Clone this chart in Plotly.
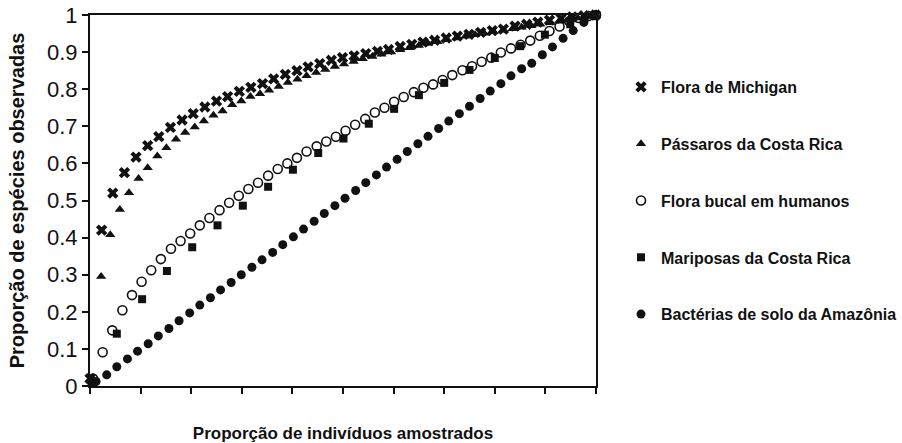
import plotly.graph_objects as go

# Proportion of individuals sampled (x) vs proportion of species observed (y)

michigan_x = [0.000, 0.023, 0.045, 0.068, 0.091, 0.114, 0.136, 0.159, 0.182, 0.204,
              0.227, 0.250, 0.272, 0.295, 0.318, 0.341, 0.363, 0.386, 0.409, 0.431,
              0.454, 0.477, 0.499, 0.522, 0.545, 0.568, 0.590, 0.613, 0.636, 0.658,
              0.681, 0.704, 0.726, 0.749, 0.772, 0.795, 0.817, 0.840, 0.863, 0.885,
              0.908, 0.931, 0.953, 0.976, 0.999]
michigan_y = [0.020, 0.420, 0.520, 0.575, 0.617, 0.648, 0.672, 0.697, 0.717, 0.734,
              0.752, 0.768, 0.780, 0.794, 0.805, 0.815, 0.828, 0.840, 0.850, 0.860,
              0.869, 0.878, 0.885, 0.890, 0.896, 0.902, 0.907, 0.915, 0.921, 0.927,
              0.932, 0.938, 0.943, 0.948, 0.953, 0.958, 0.962, 0.970, 0.975, 0.981,
              0.986, 0.991, 0.995, 0.998, 1.000]

birds_x = [0.004, 0.022, 0.040, 0.059, 0.077, 0.096, 0.114, 0.133, 0.151, 0.170,
           0.188, 0.207, 0.225, 0.244, 0.262, 0.281, 0.299, 0.317, 0.336, 0.354,
           0.373, 0.391, 0.410, 0.428, 0.447, 0.465, 0.484, 0.502, 0.521, 0.539,
           0.558, 0.576, 0.595, 0.613, 0.631, 0.650, 0.668, 0.687, 0.705, 0.724,
           0.742, 0.761, 0.779, 0.798, 0.816, 0.835, 0.853, 0.872, 0.890, 0.909,
           0.927, 0.946, 0.964, 0.983, 1.000]
birds_y = [0.020, 0.295, 0.408, 0.476, 0.521, 0.559, 0.588, 0.620, 0.642, 0.665,
           0.683, 0.698, 0.714, 0.730, 0.741, 0.758, 0.768, 0.780, 0.788, 0.797,
           0.807, 0.818, 0.827, 0.836, 0.845, 0.853, 0.861, 0.868, 0.875, 0.882,
           0.888, 0.894, 0.900, 0.906, 0.912, 0.918, 0.923, 0.928, 0.933, 0.938,
           0.943, 0.947, 0.951, 0.955, 0.959, 0.963, 0.967, 0.971, 0.975, 0.979,
           0.983, 0.988, 0.992, 0.996, 1.000]

oral_x = [0.006, 0.025, 0.044, 0.064, 0.083, 0.102, 0.121, 0.140, 0.160, 0.179,
          0.198, 0.217, 0.236, 0.256, 0.275, 0.294, 0.313, 0.332, 0.352, 0.371,
          0.390, 0.409, 0.428, 0.448, 0.467, 0.486, 0.505, 0.524, 0.544, 0.563,
          0.582, 0.601, 0.620, 0.640, 0.659, 0.678, 0.697, 0.716, 0.736, 0.755,
          0.774, 0.793, 0.812, 0.832, 0.851, 0.870, 0.889, 0.908, 0.928, 0.947,
          0.966, 0.985, 1.000]
oral_y = [0.020, 0.091, 0.150, 0.204, 0.245, 0.281, 0.312, 0.342, 0.370, 0.391,
          0.411, 0.433, 0.453, 0.474, 0.494, 0.513, 0.531, 0.548, 0.567, 0.585,
          0.600, 0.615, 0.632, 0.646, 0.659, 0.672, 0.688, 0.704, 0.720, 0.737,
          0.750, 0.766, 0.779, 0.792, 0.804, 0.813, 0.825, 0.838, 0.851, 0.862,
          0.874, 0.885, 0.899, 0.910, 0.920, 0.931, 0.944, 0.957, 0.969, 0.983,
          0.992, 0.997, 1.000]

moths_x = [0.003, 0.053, 0.103, 0.152, 0.202, 0.252, 0.302, 0.352, 0.401, 0.451,
           0.501, 0.551, 0.601, 0.650, 0.700, 0.750, 0.800, 0.850, 0.899, 0.949,
           0.999]
moths_y = [0.010, 0.141, 0.234, 0.310, 0.374, 0.433, 0.486, 0.537, 0.583, 0.628,
           0.667, 0.707, 0.747, 0.784, 0.817, 0.852, 0.884, 0.916, 0.947, 0.975,
           1.000]

bacteria_x = [0.012, 0.033, 0.053, 0.074, 0.094, 0.115, 0.135, 0.156, 0.176, 0.197,
              0.217, 0.238, 0.258, 0.279, 0.299, 0.320, 0.340, 0.361, 0.381, 0.402,
              0.422, 0.443, 0.463, 0.484, 0.504, 0.525, 0.545, 0.566, 0.586, 0.607,
              0.627, 0.648, 0.668, 0.689, 0.709, 0.730, 0.750, 0.771, 0.791, 0.812,
              0.832, 0.853, 0.873, 0.894, 0.914, 0.935, 0.955, 0.976, 0.996]
bacteria_y = [0.012, 0.030, 0.052, 0.073, 0.094, 0.114, 0.135, 0.155, 0.176, 0.197,
              0.218, 0.238, 0.259, 0.279, 0.300, 0.320, 0.340, 0.360, 0.381, 0.402,
              0.423, 0.444, 0.465, 0.486, 0.506, 0.527, 0.548, 0.569, 0.590, 0.611,
              0.632, 0.653, 0.673, 0.694, 0.714, 0.734, 0.754, 0.775, 0.795, 0.815,
              0.836, 0.855, 0.870, 0.893, 0.914, 0.937, 0.958, 0.980, 0.998]

y_ticks = [0, 0.1, 0.2, 0.3, 0.4, 0.5, 0.6, 0.7, 0.8, 0.9, 1]
y_tick_text = ["0", "0.1", "0.2", "0.3", "0.4", "0.5", "0.6", "0.7", "0.8", "0.9", "1"]

INK = "#111111"
FONT = "Liberation Sans, Arial, sans-serif"

series = [
    ("Flora de Michigan", michigan_x, michigan_y, dict(symbol="x", size=10)),
    ("Pássaros da Costa Rica", birds_x, birds_y, dict(symbol="triangle-up", size=9)),
    ("Flora bucal em humanos", oral_x, oral_y,
     dict(symbol="circle-open", size=9, line=dict(width=1.6, color=INK))),
    ("Mariposas da Costa Rica", moths_x, moths_y, dict(symbol="square", size=8)),
    ("Bactérias de solo da Amazônia", bacteria_x, bacteria_y, dict(symbol="circle", size=9)),
]

fig = go.Figure()
for i, (name, xs, ys, mk) in enumerate(series):
    marker = dict(color=INK, line=dict(width=0, color=INK))
    marker.update(mk)
    fig.add_trace(go.Scatter(
        x=xs, y=ys, mode="markers", name=name, marker=marker,
        legendgroup=f"g{i}", cliponaxis=False,
    ))

fig.update_layout(
    width=902, height=443,
    margin=dict(l=90, r=306, t=15, b=57, autoexpand=False),
    paper_bgcolor="white", plot_bgcolor="white",
    font=dict(family=FONT, color=INK),
    showlegend=True,
    legend=dict(
        x=621 / 902, xref="container", xanchor="left",
        y=1 - 70 / 443, yref="container", yanchor="top",
        font=dict(size=16, family=FONT, weight="bold"),
        tracegroupgap=33, itemsizing="trace", maxheight=420,
        bgcolor="rgba(0,0,0,0)",
    ),
    xaxis=dict(
        range=[0, 1], dtick=0.1, tick0=0, showticklabels=False,
        ticks="outside", ticklen=6, tickwidth=1.5, tickcolor=INK,
        showline=True, linecolor=INK, linewidth=2, mirror=True,
        showgrid=False, zeroline=False, automargin=False,
        title=dict(text="<b>Proporção de indivíduos amostrados</b>",
                   font=dict(size=17), standoff=40),
    ),
    yaxis=dict(
        range=[0, 1], tickvals=y_ticks, ticktext=y_tick_text,
        ticks="outside", ticklen=6, tickwidth=1.5, tickcolor=INK,
        tickfont=dict(size=22),
        showline=True, linecolor=INK, linewidth=2, mirror=True,
        showgrid=False, zeroline=False, automargin=False,
        title=dict(text="<b>Proporção de espécies observadas</b>",
                   font=dict(size=20), standoff=17),
    ),
)

fig.write_html("out.html")
